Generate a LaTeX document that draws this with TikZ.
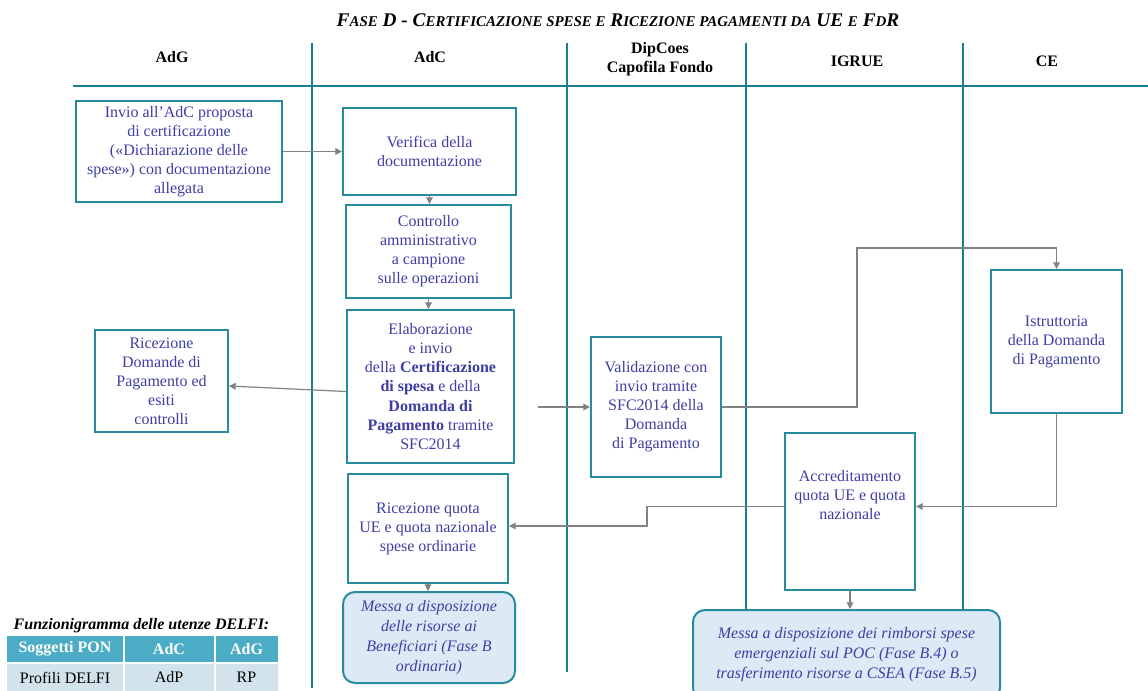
\documentclass[tikz,border=0pt]{standalone}
\usepackage{fontspec}
\setmainfont{Liberation Serif}
\usetikzlibrary{arrows.meta,calc}

\definecolor{laneC}{RGB}{24,126,146}
\definecolor{boxC}{RGB}{38,140,158}
\definecolor{txtC}{RGB}{62,62,165}
\definecolor{arrC}{RGB}{130,130,130}
\definecolor{outF}{RGB}{221,234,246}
\definecolor{thF}{RGB}{75,172,198}
\definecolor{tdF}{RGB}{210,227,235}

\newcommand\tsm[1]{{\fontsize{11.2}{13}\selectfont #1}}

\begin{document}
\begin{tikzpicture}[x=0.75pt,y=-0.75pt,
  sz/.style 2 args={minimum width={0.75*#1}, minimum height={0.75*#2}},
  lane/.style={draw=laneC, line width=2.2pt},
  head/.style={font=\fontsize{12}{14}\selectfont\bfseries, align=center},
  proc/.style={draw=boxC, line width=1.5pt, fill=white, text=txtC, align=center,
    font=\fontsize{12}{14.3}\selectfont, inner sep=0pt},
  outc/.style={proc, fill=outF, rounded corners=9pt, font=\fontsize{12}{15}\selectfont\itshape},
  flow/.style={draw=arrC, line width=0.9pt, -{Triangle[length=5pt,width=5pt]}},
  cellh/.style={fill=thF, text=white, font=\fontsize{12}{14}\selectfont\bfseries, inner sep=0pt},
  celld/.style={fill=tdF, text=black, font=\fontsize{12}{14}\selectfont, inner sep=0pt}
]
\useasboundingbox (0,0) rectangle (1148,691);
\clip (0,0) rectangle (1148,691);

% title
\node (title) at (618,20) {\fontsize{14.5}{16}\selectfont\bfseries\itshape
  F\tsm{ASE} D - C\tsm{ERTIFICAZIONE SPESE E} R\tsm{ICEZIONE PAGAMENTI DA} UE \tsm{E} F\tsm{D}R};

% swimlanes
\draw[lane] (73,86) -- (1148,86);
\draw[lane] (312,43) -- (312,688);
\draw[lane] (567,43) -- (567,672);
\draw[lane] (746,43) -- (746,640);
\draw[lane] (963,43) -- (963,640);

\node[head] (hAdG) at (172,57) {AdG};
\node[head] (hAdC) at (430,57) {AdC};
\node[head] (hDip) at (660,59) {DipCoes\\Capofila Fondo};
\node[head] (hIgr) at (857,61) {IGRUE};
\node[head] (hCE)  at (1047,61) {CE};

% process boxes
\node[proc, sz={206}{101}] (inv) at (179,151.5)
  {Invio all’AdC proposta\\di certificazione\\(«Dichiarazione delle\\spese») con documentazione\\allegata};
\node[proc, sz={173}{87}] (ver) at (429.5,151.5)
  {Verifica della\\documentazione};
\node[proc, sz={165}{93}] (ctl) at (428.5,251.5)
  {Controllo\\amministrativo\\a campione\\sulle operazioni};
\node[proc, sz={167}{153}] (ela) at (430.5,386.5)
  {Elaborazione\\e invio\\della \textbf{Certificazione}\\\textbf{di spesa} e della\\\textbf{Domanda di}\\\textbf{Pagamento} tramite\\SFC2014};
\node[proc, sz={133}{102}] (ricd) at (161.5,381)
  {Ricezione\\Domande di\\Pagamento ed\\esiti\\controlli};
\node[proc, sz={130}{140}] (val) at (656,407)
  {Validazione con\\invio tramite\\SFC2014 della\\Domanda\\di Pagamento};
\node[proc, sz={131}{143}] (ist) at (1056.5,341.5)
  {Istruttoria\\della Domanda\\di Pagamento};
\node[proc, sz={130}{157}] (acc) at (850,511.5)
  {Accreditamento\\quota UE e quota\\nazionale\\[10pt]};
\node[proc, sz={160}{109}] (ricq) at (428,528.5)
  {Ricezione quota\\UE e quota nazionale\\spese ordinarie};
\node[outc, sz={172}{91}] (mes1) at (429,637.5)
  {Messa a disposizione\\delle risorse ai\\Beneficiari (Fase B\\ordinaria)};
\node[outc, sz={307}{90}] (mes2) at (846.5,655)
  {Messa a disposizione dei rimborsi spese\\emergenziali sul POC (Fase B.4) o\\trasferimento risorse a CSEA (Fase B.5)};

% connectors
\coordinate (eo) at (538,407);
\coordinate (up) at (857,248);
\coordinate (dn) at (647,526);

\draw[flow] (inv) -- (ver);
\draw[flow] (ver.south) -- (ver.south |- ctl.north);
\draw[flow] (ctl.south) -- (ctl.south |- ela.north);
\draw[flow] ($(ela.west)+(0,5)$) -- ($(ricd.east)+(0,5)$);
\draw[flow] (eo) -- (val.west |- eo);
\draw[flow] (val.east |- eo) -| (up) -| (ist.north);
\draw[flow] (ist.south) |- ($(acc.east)+(0,-5)$);
\draw[flow] ($(acc.west)+(0,-5)$) -| (dn) -- (ricq.east |- dn);
\draw[flow] (ricq.south) -- (ricq.south |- mes1.north);
\draw[flow] (acc.south) -- (acc.south |- mes2.north);

% DELFI profiles table
\node[font=\fontsize{12}{14}\selectfont\bfseries\itshape, anchor=west] (ttl) at (9,626)
  {Funzionigramma delle utenze DELFI:};
\node[cellh, sz={116}{26}] (c11) at (65,649) {Soggetti PON};
\node[cellh, sz={89}{26}] (c12) at (169,649) {AdC};
\node[cellh, sz={62}{26}] (c13) at (246.5,649) {AdG};
\node[celld, sz={116}{27}] (c21) at (65,677.5) {Profili DELFI};
\node[celld, sz={89}{27}] (c22) at (169,677.5) {AdP};
\node[celld, sz={62}{27}] (c23) at (246.5,677.5) {RP};
\end{tikzpicture}
\end{document}
